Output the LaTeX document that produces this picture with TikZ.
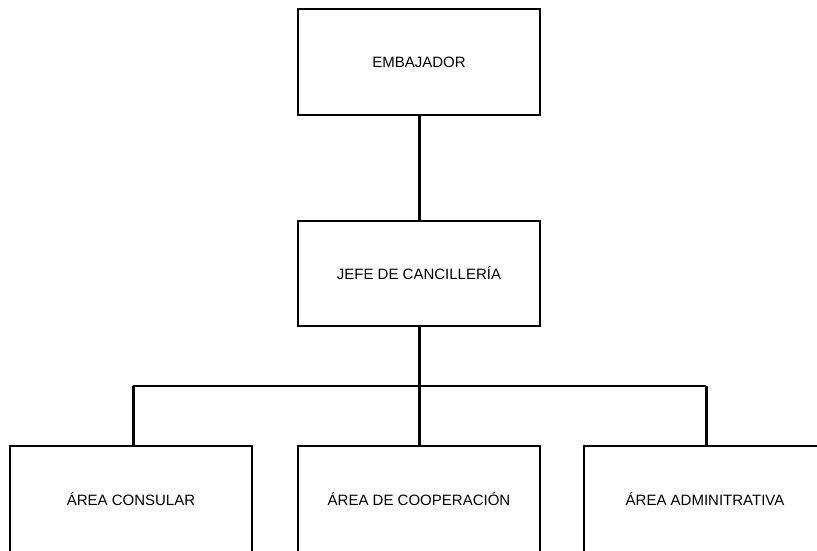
\documentclass[tikz,border=0pt]{standalone}
\usepackage{fontspec}
\setmainfont{Liberation Sans}
\begin{document}
\begin{tikzpicture}[x=1pt,y=-1pt,
  orgbox/.style={draw=black,line width=1.9pt,minimum width=242pt,minimum height=106pt,inner sep=0pt,font=\fontsize{15}{18}\selectfont,fill=white},
  vlink/.style={line width=3pt},
  hlink/.style={line width=2.1pt}]
\useasboundingbox (0,0) rectangle (817,550);
\clip (0,0) rectangle (817,550);
\node[orgbox] (emb) at (419,62) {EMBAJADOR};
\node[orgbox,minimum height=105pt] (jefe) at (419,273.5) {JEFE DE CANCILLERÍA};
\node[orgbox] (b1) at (131,499) {ÁREA CONSULAR};
\node[orgbox] (b2) at (419,499) {ÁREA DE COOPERACIÓN};
\node[orgbox] (b3) at (705,499) {ÁREA ADMINITRATIVA};
\coordinate (bus) at (419,386);
\coordinate (busl) at (133,386);
\coordinate (busr) at (706,386);
\draw[vlink] (emb.south) -- (jefe.north);
\draw[vlink] (jefe.south) -- (bus);
\draw[hlink] (busl) -- (busr);
\draw[vlink] (busl) -- (busl |- b1.north);
\draw[vlink] (bus) -- (b2.north);
\draw[vlink] (busr) -- (busr |- b3.north);
\end{tikzpicture}
\end{document}
